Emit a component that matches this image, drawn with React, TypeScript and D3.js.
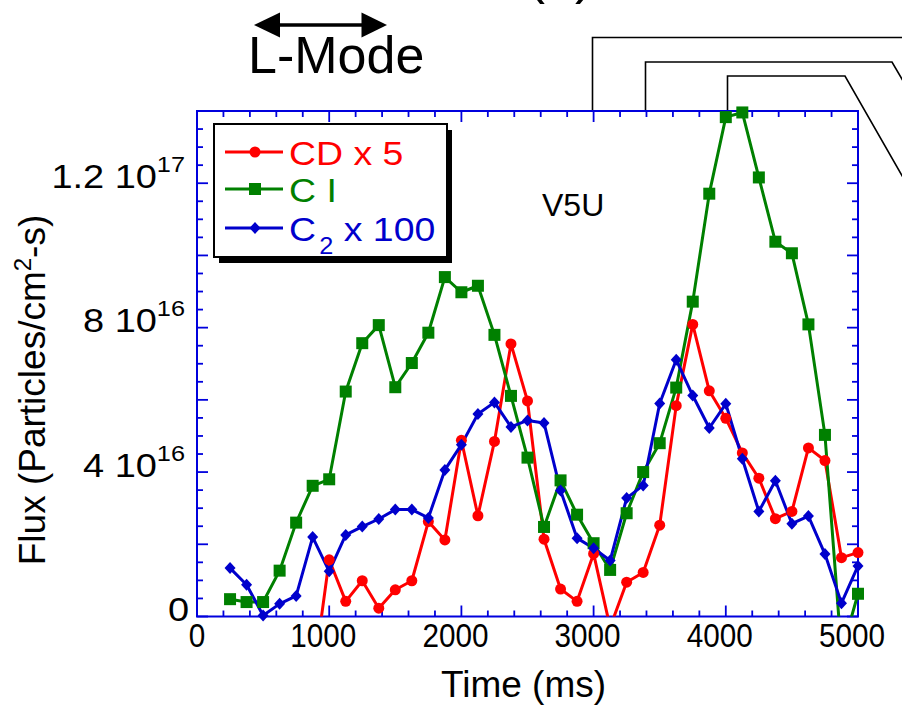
import React from "react";
import * as d3 from "d3";

// Time samples (ms)
const times = [
  250, 375, 500, 625, 750, 875, 1000, 1125, 1250, 1375, 1500, 1625, 1750,
  1875, 2000, 2125, 2250, 2375, 2500, 2625, 2750, 2875, 3000, 3125, 3250,
  3375, 3500, 3625, 3750, 3875, 4000, 4125, 4250, 4375, 4500, 4625, 4750,
  4875, 5000,
];

// Flux values in units of 1e16 particles/cm^2-s
const cdX5: (number | null)[] = [
  null, null, null, null, null, -1.8, 1.57, 0.42, 0.99, 0.23, 0.74, 0.99, 2.63,
  2.12, 4.88, 2.79, 4.85, 7.55, 5.97, 2.14, 0.76, 0.42, 1.74, -0.3, 0.95,
  1.22, 2.53, 5.84, 8.09, 6.25, 5.49, 4.53, 3.83, 2.71, 2.91, 4.67, 4.32,
  1.63, 1.77,
];

const cI: (number | null)[] = [
  0.48, 0.4, 0.4, 1.27, 2.6, 3.62, 3.8, 6.23, 7.57, 8.07, 6.35, 7.02, 7.86,
  9.4, 8.98, 9.16, 7.8, 6.11, 4.4, 2.48, 3.77, 2.82, 2.03, 1.29, 2.86,
  4.0, 4.8, 6.34, 8.72, 11.71, 13.83, 13.96, 12.16, 10.38, 10.06, 8.09, 5.03,
  -1.0, 0.63,
];

const c2X100: (number | null)[] = [
  1.34, 0.88, 0.03, 0.35, 0.57, 2.2, 1.25, 2.26, 2.49, 2.7, 2.96, 2.96, 2.73,
  4.06, 4.76, 5.61, 5.93, 5.25, 5.43, 5.36, 3.49, 2.17, 1.89, 1.55, 3.28,
  3.63, 5.9, 7.11, 6.12, 5.22, 5.89, 4.37, 2.91, 3.76, 2.57, 2.78, 1.73,
  0.37, 1.4,
];

const xTickValues = [0, 1000, 2000, 3000, 4000, 5000];
const xTickLabels = ["0", "1000", "2000", "3000", "4000", "5000"];
const yTickValues = [0, 4, 8, 12];
const yTickMain = ["0", "4 10", "8 10", "1.2 10"];
const yTickSup = ["", "16", "16", "17"];

const FONT = "'Liberation Sans', Arial, Helvetica, sans-serif";
const AXIS = "#0000dd";

export default function App() {
  const W = 902, H = 705;
  const L = 197, R = 858, T = 111, B = 616.5;
  const x = d3.scaleLinear().domain([0, 5000]).range([L, R]);
  const y = d3.scaleLinear().domain([0, 14]).range([B, T]);

  const series = [
    { key: "cd", values: cdX5, color: "#ff0000", marker: "circle" },
    { key: "ci", values: cI, color: "#008000", marker: "square" },
    { key: "c2", values: c2X100, color: "#0000cc", marker: "diamond" },
  ];

  const lineGen = d3
    .line<[number, number | null]>()
    .defined((d) => d[1] != null)
    .x((d) => x(d[0]))
    .y((d) => y(d[1] as number));

  const marker = (type: string, cx: number, cy: number, color: string, k: string) => {
    if (type === "circle") return <circle key={k} cx={cx} cy={cy} r={5.5} fill={color} />;
    if (type === "square")
      return <rect key={k} x={cx - 6} y={cy - 6} width={12} height={12} fill={color} />;
    return (
      <path
        key={k}
        d={`M${cx},${cy - 6}L${cx + 5.5},${cy}L${cx},${cy + 6}L${cx - 5.5},${cy}Z`}
        fill={color}
      />
    );
  };

  const xMinor = d3.range(0, 5001, 200);
  const yMinor = d3.range(0, 14.01, 0.5);
  const isXMajor = (v: number) => v % 1000 === 0;
  const isYMajor = (v: number) => Math.abs(v / 2 - Math.round(v / 2)) < 1e-6;

  const legendItems = [
    { s: series[0], y: 152, label: <tspan>CD x 5</tspan> },
    { s: series[1], y: 189, label: <tspan>C I</tspan> },
    {
      s: series[2],
      y: 228,
      label: (
        <>
          <tspan>C</tspan>
          <tspan dx={3} dy={13} fontSize={23}>2</tspan>
          <tspan dy={-13}> x 100</tspan>
        </>
      ),
    },
  ];

  return (
    <svg
      width={W}
      height={H}
      style={{ position: "absolute", left: 0, top: 0, background: "#fff" }}
      fontFamily={FONT}
    >
      <defs>
        <clipPath id="plotClip">
          <rect x={0} y={T} width={W} height={B - T} />
        </clipPath>
      </defs>
      <rect x={0} y={0} width={W} height={H} fill="#fff" />

      {/* top title remnant (cut off by the page edge) */}
      <text x={560} y={-7} fontSize={54} textAnchor="middle" fill="#000">(a)</text>

      {/* L-Mode arrow */}
      <line x1={272} y1={25} x2={370} y2={25} stroke="#000" strokeWidth={3.5} />
      <path d="M254,25L280,12.5L280,37.5Z" fill="#000" />
      <path d="M387,25L361.5,12.5L361.5,37.5Z" fill="#000" />
      <text x={248} y={73} fontSize={52} fill="#000">L-Mode</text>

      {/* bracket lines */}
      <path d="M592.5,110V37.5H905" fill="none" stroke="#000" strokeWidth={1.6} />
      <path d="M645.5,110V62H892L920,110" fill="none" stroke="#000" strokeWidth={1.6} />
      <path d="M727.5,110V76H845L920,207" fill="none" stroke="#000" strokeWidth={1.6} />

      {/* frame and ticks */}
      <rect x={L} y={T} width={R - L} height={B - T} fill="none" stroke={AXIS} strokeWidth={2} />
      {xMinor.map((v) => {
        const len = isXMajor(v) ? 11 : 6;
        return (
          <g key={"xt" + v} stroke={AXIS} strokeWidth={1.8}>
            <line x1={x(v)} x2={x(v)} y1={B} y2={B - len} />
            <line x1={x(v)} x2={x(v)} y1={T} y2={T + len} />
          </g>
        );
      })}
      {yMinor.map((v) => {
        const len = isYMajor(v) ? 11 : 6;
        return (
          <g key={"yt" + v} stroke={AXIS} strokeWidth={1.8}>
            <line x1={L} x2={L + len} y1={y(v)} y2={y(v)} />
            <line x1={R} x2={R - len} y1={y(v)} y2={y(v)} />
          </g>
        );
      })}

      {/* x tick labels */}
      {xTickValues.map((v, i) => (
        <g key={"xl" + v} transform={`translate(${x(v) - (v === 0 ? 0 : 6)},646.5) scale(0.9,1)`}>
          <text x={0} y={0} fontSize={33} textAnchor="middle" fill="#000">
            {xTickLabels[i]}
          </text>
        </g>
      ))}

      {/* y tick labels */}
      {yTickValues.map((v, i) => (
        <g
          key={"yl" + v}
          transform={`translate(${yTickSup[i] ? 185 : 189},${y(v) + 4.5}) scale(1.15,1)`}
        >
          <text x={0} y={0} fontSize={33} textAnchor="end" fill="#000">
            {yTickMain[i]}
            {yTickSup[i] ? (
              <tspan fontSize={22} dy={-16}>{yTickSup[i]}</tspan>
            ) : null}
          </text>
        </g>
      ))}

      {/* axis titles */}
      <text x={523.5} y={696.5} fontSize={37} textAnchor="middle" fill="#000">
        Time (ms)
      </text>
      <text
        transform="translate(45,390) rotate(-90)"
        fontSize={37}
        textAnchor="middle"
        fill="#000"
      >
        Flux (Particles/cm<tspan fontSize={24} dy={-14}>2</tspan>
        <tspan dy={14}>-s)</tspan>
      </text>

      {/* series */}
      <g clipPath="url(#plotClip)">
        {series.map((s) => (
          <path
            key={s.key + "-line"}
            d={lineGen(times.map((t, i) => [t, s.values[i]] as [number, number | null])) || ""}
            fill="none"
            stroke={s.color}
            strokeWidth={3}
            strokeLinejoin="round"
          />
        ))}
      </g>
      {series.map((s) => (
        <g key={s.key + "-marks"}>
          {times.map((t, i) => {
            const v = s.values[i];
            if (v == null || v < 0) return null;
            return marker(s.marker, x(t), y(v), s.color, s.key + i);
          })}
        </g>
      ))}

      {/* V5U label */}
      <text x={542} y={216} fontSize={32} fill="#000">V5U</text>

      {/* legend */}
      <rect x={219} y={130} width={233} height={133} fill="#000" />
      <rect x={214} y={124} width={233} height={133} fill="#fff" stroke="#000" strokeWidth={2} />
      {legendItems.map((it) => (
        <g key={"lg" + it.s.key}>
          <line x1={225} x2={283} y1={it.y} y2={it.y} stroke={it.s.color} strokeWidth={3} />
          {marker(it.s.marker, 255, it.y, it.s.color, "lm" + it.s.key)}
          <g transform={`translate(289,${it.y + 12.5}) scale(1.1,1)`}>
            <text x={0} y={0} fontSize={34} fill={it.s.color}>
              {it.label}
            </text>
          </g>
        </g>
      ))}
    </svg>
  );
}
